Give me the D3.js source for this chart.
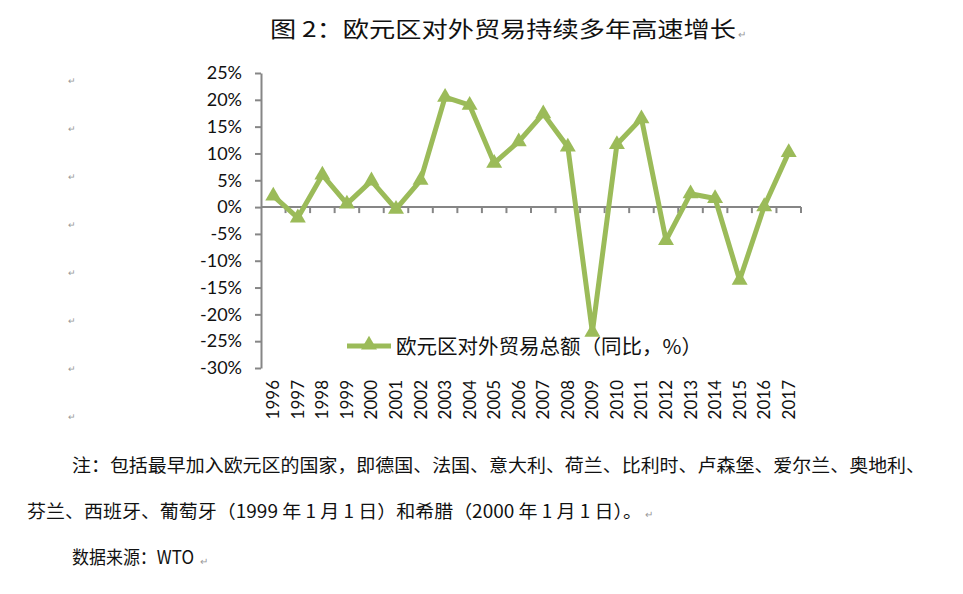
<!DOCTYPE html>
<html><head><meta charset="utf-8">
<script src="https://cdn.jsdelivr.net/npm/d3@7/dist/d3.min.js"></script>
<style>body{margin:0;background:#fff}svg{display:block}</style>
</head><body>
<svg id="c" width="963" height="594"></svg>
<script>
const years = ["1996","1997","1998","1999","2000","2001","2002","2003","2004","2005","2006","2007","2008","2009","2010","2011","2012","2013","2014","2015","2016","2017"];
const growth = [2.1,-2.0,6.0,0.6,4.9,-0.4,5.0,20.5,19.0,8.2,12.2,17.4,11.2,-23.3,11.7,16.5,-6.2,2.5,1.6,-13.6,0.1,10.2];
const yTicks = [25,20,15,10,5,0,-5,-10,-15,-20,-25,-30];
const titleText = "图 2：欧元区对外贸易持续多年高速增长";
const seriesName = "欧元区对外贸易总额（同比，%）";
const noteLines = ["注：包括最早加入欧元区的国家，即德国、法国、意大利、荷兰、比利时、卢森堡、爱尔兰、奥地利、",
  "芬兰、西班牙、葡萄牙（1999 年 1 月 1 日）和希腊（2000 年 1 月 1 日）。"];
const sourceText = "数据来源：WTO";

const svg = d3.select("#c");
const green = "#9BBB59";
const axisGray = "#868686";
const cjk = "'Noto Sans CJK SC', sans-serif";
const latin = "Lato,'Noto Sans',sans-serif";

const x = d3.scaleBand().domain(years).range([261, 801]);
const y = d3.scaleLinear().domain([-30, 25]).range([368, 73]);

// title
svg.append("text").attr("x", 270).attr("y", 37).attr("font-family", cjk).attr("font-size", 22)
  .attr("fill", "#111").attr("textLength", 466).attr("lengthAdjust", "spacingAndGlyphs").text(titleText);
svg.append("text").attr("x", 738).attr("y", 38).attr("font-size", 10).attr("fill", "#999").text("↵");

// paragraph marks on the left
d3.range(8).forEach(i => {
  svg.append("text").attr("x", 68).attr("y", 84 + i * 48).attr("font-size", 9).attr("fill", "#999").text("↵");
});

// y axis
const yAxis = d3.axisLeft(y).tickValues(yTicks).tickFormat(d => d + "%").tickSize(6).tickSizeOuter(0);
const gy = svg.append("g").attr("transform", "translate(261,0)").call(yAxis);
gy.select(".domain").attr("stroke", axisGray).attr("stroke-width", 2);
gy.selectAll(".tick line").attr("stroke", axisGray).attr("stroke-width", 2);
gy.selectAll(".tick text").attr("font-family", latin).attr("font-size", 18).attr("fill", "#111").attr("x", -19);

// x axis along zero line
const boundaries = years.map(d => x(d)).concat([x.range()[1]]);
const gx = svg.append("g");
gx.append("line").attr("x1", 261).attr("x2", 801).attr("y1", y(0)).attr("y2", y(0))
  .attr("stroke", axisGray).attr("stroke-width", 2);
gx.selectAll("line.tk").data(boundaries.slice(1)).join("line").attr("class", "tk")
  .attr("x1", d => d).attr("x2", d => d).attr("y1", y(0)).attr("y2", y(0) + 6)
  .attr("stroke", axisGray).attr("stroke-width", 2);

// year labels at bottom, rotated
svg.append("g").selectAll("text").data(years).join("text")
  .attr("transform", d => `translate(${x(d) + x.bandwidth() / 2 + 6},380) rotate(-90)`)
  .attr("text-anchor", "end").attr("font-family", latin).attr("font-size", 17).attr("fill", "#111")
  .text(d => d);

// line
const line = d3.line().x((d, i) => x(years[i]) + x.bandwidth() / 2).y(d => y(d));
svg.append("path").datum(growth).attr("d", line).attr("fill", "none")
  .attr("stroke", green).attr("stroke-width", 5).attr("stroke-linejoin", "round");
const tri = d3.symbol().type(d3.symbolTriangle).size(110);
svg.append("g").selectAll("path").data(growth).join("path")
  .attr("transform", (d, i) => `translate(${x(years[i]) + x.bandwidth() / 2},${y(d)})`)
  .attr("d", tri).attr("fill", green);

// legend
svg.append("line").attr("x1", 347).attr("x2", 391).attr("y1", 346).attr("y2", 346)
  .attr("stroke", green).attr("stroke-width", 5);
svg.append("path").attr("transform", "translate(369,345)").attr("d", tri).attr("fill", green);
svg.append("text").attr("x", 396).attr("y", 354).attr("font-family", cjk).attr("font-size", 20)
  .attr("fill", "#111").attr("textLength", 306).attr("lengthAdjust", "spacingAndGlyphs").text(seriesName);

// notes
svg.append("text").attr("x", 72).attr("y", 472).attr("font-family", cjk).attr("font-size", 18)
  .attr("fill", "#111").attr("textLength", 853).attr("lengthAdjust", "spacingAndGlyphs").text(noteLines[0]);
svg.append("text").attr("x", 27).attr("y", 518).attr("font-family", cjk).attr("font-size", 18)
  .attr("fill", "#111").attr("textLength", 615).attr("lengthAdjust", "spacingAndGlyphs").text(noteLines[1]);
svg.append("text").attr("x", 645).attr("y", 518).attr("font-size", 10).attr("fill", "#999").text("↵");
svg.append("text").attr("x", 72).attr("y", 564).attr("font-family", cjk).attr("font-size", 18)
  .attr("fill", "#111").attr("textLength", 122).attr("lengthAdjust", "spacingAndGlyphs").text(sourceText);
svg.append("text").attr("x", 200).attr("y", 565).attr("font-size", 10).attr("fill", "#999").text("↵");
</script>
</body></html>
